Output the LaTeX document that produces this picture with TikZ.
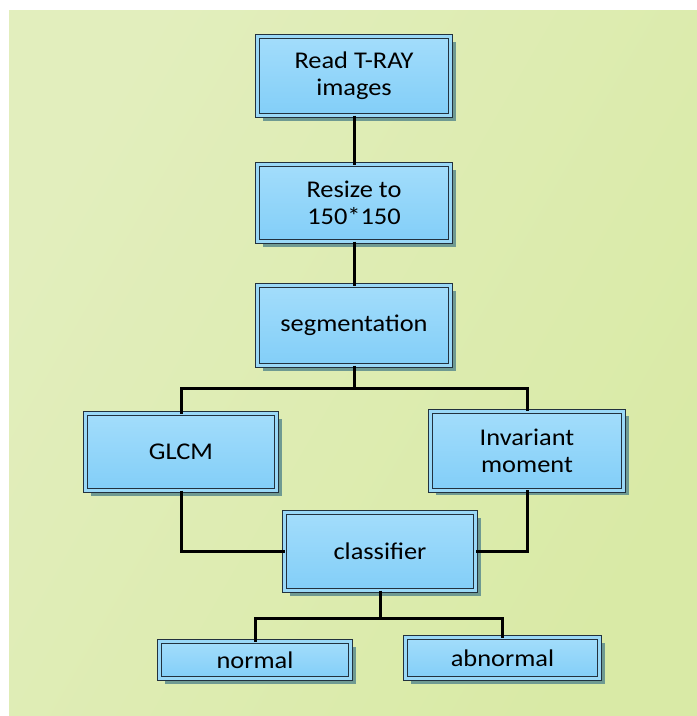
\documentclass[tikz,border=0pt]{standalone}
\usepackage{fontspec}
\setmainfont{Carlito}[FakeStretch=1.1]
\usetikzlibrary{shadows}
\definecolor{bgA}{HTML}{E2EEBD}
\definecolor{bgB}{HTML}{D9EAA6}
\definecolor{blueT}{HTML}{A3DDFB}
\definecolor{blueB}{HTML}{82CEF8}
\definecolor{boxmid}{HTML}{9AD8F7}
\definecolor{boxline}{HTML}{22313E}
\definecolor{shadowc}{HTML}{6F9A92}
\tikzset{
  box/.style={rectangle, draw=boxline, line width=1pt, double=boxmid, double distance=3pt,
    top color=blueT, bottom color=blueB,
    drop shadow={shadow xshift=5pt, shadow yshift=-5pt, fill=shadowc, opacity=1},
    align=center, inner sep=0pt, outer sep=0pt,
    font=\fontsize{24}{27}\selectfont},
  conn/.style={line width=3pt, black},
}
\begin{document}
\begin{tikzpicture}[x=1pt,y=-1pt]
\useasboundingbox (0,0) rectangle (697,716);
\shade[left color=bgA, right color=bgB, shading angle=60] (9,10) rectangle (697,716);
\node[box, minimum width=193pt, minimum height=79pt] (b1) at (354,76) {Read T-RAY\\images};
\node[box, minimum width=193pt, minimum height=77pt] (b2) at (354,203) {Resize to\\150*150};
\node[box, minimum width=193pt, minimum height=80pt] (b3) at (354,325.5) {segmentation};
\node[box, minimum width=191pt, minimum height=77pt] (glcm) at (181,452) {GLCM};
\node[box, minimum width=193pt, minimum height=79pt] (inv) at (527,450.5) {Invariant\\moment};
\node[box, minimum width=191pt, minimum height=78pt] (cls) at (380,551.5) {classifier};
\node[box, minimum width=191pt, minimum height=37pt] (nor) at (255,660) {normal};
\node[box, minimum width=194pt, minimum height=41pt] (abn) at (502.5,658) {abnormal};
\coordinate (j1) at (354,388);
\coordinate (j2) at (380,618);
\draw[conn] (b1.south) -- (b2.north);
\draw[conn] (b2.south) -- (b3.north);
\draw[conn] (b3.south) -- (j1);
\draw[conn] (glcm.north) |- (j1) -| (inv.north);
\draw[conn] (glcm.south) |- (cls.west);
\draw[conn] (inv.south) |- (cls.east);
\draw[conn] (cls.south) -- (j2);
\draw[conn] (nor.north) |- (j2) -| (abn.north);
\end{tikzpicture}
\end{document}
